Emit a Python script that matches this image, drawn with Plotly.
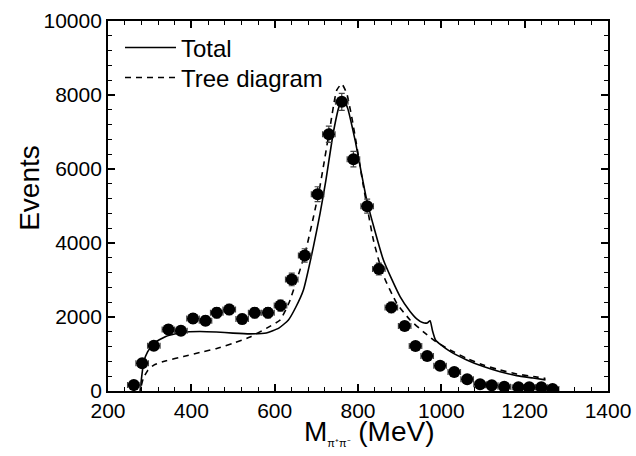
import plotly.graph_objects as go

# Data points (M_pipi in MeV, events)
data_x = [262, 282, 310, 345, 375, 404, 434, 461, 491, 522, 552, 584, 614, 641, 672,
          703, 730, 761, 789, 822, 850, 880, 912, 938, 966, 997, 1031, 1062, 1093,
          1121, 1151, 1185, 1211, 1240, 1267]
data_y = [160, 750, 1220, 1665, 1630, 1960, 1900, 2115, 2205, 1945, 2115, 2115, 2310,
          3015, 3665, 5320, 6940, 7815, 6265, 4995, 3295, 2260, 1755, 1215, 945, 685,
          515, 315, 180, 155, 115, 100, 100, 100, 55]
data_err_y = [60, 90, 110, 120, 120, 130, 130, 140, 140, 130, 140, 140, 150,
              170, 180, 200, 220, 230, 210, 190, 160, 140, 120, 100, 90, 80,
              70, 60, 40, 40, 35, 30, 30, 30, 25]
data_err_x = [15] * len(data_x)

# "Total" curve
total_x = [277, 281, 286, 295, 310, 340, 380, 420, 460, 500, 540, 580, 610, 633, 650,
           669, 693, 709, 723, 741, 755, 765, 775, 793, 821, 861, 901, 925, 941, 955,
           966, 973, 979, 986, 1000, 1021, 1061, 1101, 1141, 1181, 1220, 1250]
total_y = [0, 400, 800, 1060, 1290, 1480, 1590, 1610, 1595, 1565, 1545, 1570, 1700,
           1920, 2250, 2730, 3900, 4800, 5700, 7000, 7700, 7870, 7650, 6780, 5160,
           3540, 2550, 2150, 1950, 1850, 1840, 1900, 1620, 1380, 1240, 1070, 840, 660,
           520, 415, 350, 300]

# "Tree diagram" curve
tree_x = [280, 285, 295, 310, 340, 381, 420, 461, 500, 541, 581, 613, 635, 653, 673,
          693, 709, 733, 749, 761, 773, 785, 796, 812, 837, 860, 893, 925, 957, 981,
          1021, 1061, 1101, 1141, 1181, 1221, 1250]
tree_y = [150, 350, 550, 700, 820, 930, 1040, 1150, 1290, 1460, 1700, 1920, 2400, 3000,
          3720, 4700, 5550, 7140, 8130, 8300, 8040, 7400, 6690, 5600, 4080, 3150, 2370,
          1920, 1600, 1380, 1110, 880, 700, 567, 460, 390, 340]

FONT = "Liberation Sans, Arial, sans-serif"

fig = go.Figure()
fig.add_trace(go.Scatter(
    x=total_x, y=total_y, mode="lines", name="Total", legend="legend",
    line=dict(color="black", width=1.6, shape="spline", smoothing=0.5),
))
fig.add_trace(go.Scatter(
    x=tree_x, y=tree_y, mode="lines", name="Tree diagram", legend="legend2",
    line=dict(color="black", width=1.6, dash="6px,5px", shape="spline", smoothing=0.5),
))
fig.add_trace(go.Scatter(
    x=data_x, y=data_y, mode="markers", showlegend=False,
    marker=dict(color="black", size=12),
    error_x=dict(type="data", array=data_err_x, color="#444", thickness=1.2, width=3),
    error_y=dict(type="data", array=data_err_y, color="#444", thickness=1.2, width=3),
))

axis_common = dict(
    showgrid=False, zeroline=False, showline=True, linecolor="black", linewidth=1.8,
    mirror="allticks", ticks="inside", ticklen=7, tickwidth=1.5, tickcolor="black",
    tickfont=dict(family=FONT, size=21, color="black"), automargin=False,
    tickformat="d",
)

fig.update_xaxes(
    range=[200, 1400], dtick=200, tick0=200,
    minor=dict(ticks="inside", ticklen=4, dtick=40, tickwidth=1.2, tickcolor="black"),
    ticklabelstandoff=0,
    **axis_common,
)
fig.update_yaxes(
    range=[0, 10000], dtick=2000, tick0=0,
    minor=dict(ticks="inside", ticklen=4, dtick=400, tickwidth=1.2, tickcolor="black"),
    **axis_common,
)

# Axis titles as annotations (placed like the reference)
fig.add_annotation(
    text="Events", textangle=-90, xref="paper", yref="paper",
    x=-0.156, y=0.549, xanchor="center", yanchor="middle", showarrow=False,
    font=dict(family=FONT, size=28, color="black"),
)
fig.add_annotation(
    text='M<sub><span style="font-size:11px">π⁺π⁻</span></sub> (MeV)',
    xref="paper", yref="paper", x=0.522, y=-0.1135, xanchor="center", yanchor="middle",
    showarrow=False, font=dict(family=FONT, size=28, color="black"),
)

legend_common = dict(
    xanchor="left", yanchor="top", bgcolor="rgba(0,0,0,0)", borderwidth=0,
    font=dict(family=FONT, size=24, color="black"), itemwidth=51,
)

fig.update_layout(
    width=636, height=456,
    margin=dict(l=108, r=28, t=21, b=65),
    paper_bgcolor="white", plot_bgcolor="white",
    showlegend=True,
    legend=dict(x=0.024, y=0.988, **legend_common),
    legend2=dict(x=0.024, y=0.907, **legend_common),
)

fig.write_html("out.html", post_script="document.body.style.margin='0';",
               config={"displayModeBar": False})
